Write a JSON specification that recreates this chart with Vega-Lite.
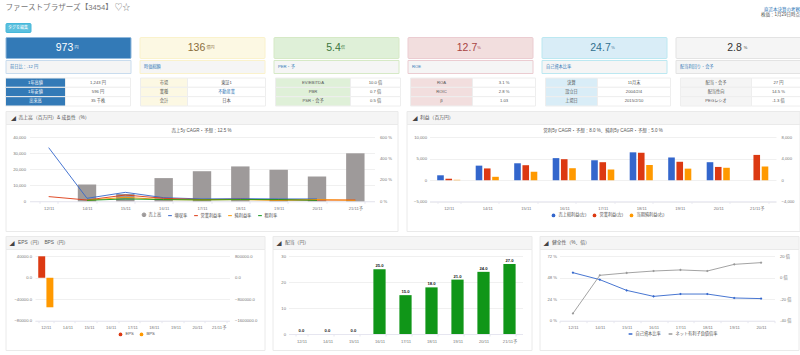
{
"$schema":"https://vega.github.io/schema/vega-lite/v6.json",
"padding":{"left":4.5,"top":0,"right":0,"bottom":0},
"background":"#ffffff",
"resolve":{"scale":{"color":"independent"},"legend":{"color":"independent"}},
"config":{"view":{"stroke":null},"font":"Liberation Sans, Noto Sans CJK JP","text":{"font":"Liberation Sans, Noto Sans CJK JP"},
"axis":{"title":null,"labelFontSize":4.2,"labelColor":"#777","labelFont":"Liberation Sans, Noto Sans CJK JP","gridColor":"#f0f0f0","gridWidth":1,"domain":false,"ticks":false},
"legend":{"labelFontSize":4.2,"labelOffset":2,"labelColor":"#555","labelFont":"Liberation Sans, Noto Sans CJK JP","title":null}},
"datasets":{
"sales":[{"cat":"14/11","series":"売上高","value":10500},{"cat":"15/11","series":"売上高","value":4500},{"cat":"16/11","series":"売上高","value":14500},{"cat":"17/11","series":"売上高","value":18800},{"cat":"18/11","series":"売上高","value":21800},{"cat":"19/11","series":"売上高","value":19700},{"cat":"20/11","series":"売上高","value":15500},{"cat":"21/11予","series":"売上高","value":30000}],
"growth":[
{"cat":"12/11","series":"増収率","value":503},{"cat":"14/11","series":"増収率","value":28},{"cat":"15/11","series":"増収率","value":84},{"cat":"16/11","series":"増収率","value":34},{"cat":"17/11","series":"増収率","value":22},{"cat":"18/11","series":"増収率","value":25},{"cat":"19/11","series":"増収率","value":22},{"cat":"20/11","series":"増収率","value":22},
{"cat":"12/11","series":"営業利益率","value":44},{"cat":"14/11","series":"営業利益率","value":12},{"cat":"15/11","series":"営業利益率","value":59},{"cat":"16/11","series":"営業利益率","value":28},{"cat":"17/11","series":"営業利益率","value":16},{"cat":"18/11","series":"営業利益率","value":19},{"cat":"19/11","series":"営業利益率","value":13},{"cat":"20/11","series":"営業利益率","value":12},{"cat":"21/11予","series":"営業利益率","value":12},
{"cat":"14/11","series":"純利益率","value":9},{"cat":"15/11","series":"純利益率","value":37},{"cat":"16/11","series":"純利益率","value":16},{"cat":"17/11","series":"純利益率","value":13},{"cat":"18/11","series":"純利益率","value":16},{"cat":"19/11","series":"純利益率","value":9},{"cat":"20/11","series":"純利益率","value":16},{"cat":"21/11予","series":"純利益率","value":9},
{"cat":"14/11","series":"粗利率","value":9},{"cat":"15/11","series":"粗利率","value":22},{"cat":"16/11","series":"粗利率","value":16},{"cat":"17/11","series":"粗利率","value":13},{"cat":"18/11","series":"粗利率","value":16},{"cat":"19/11","series":"粗利率","value":16},{"cat":"20/11","series":"粗利率","value":9}],
"profit":[
{"cat":"12/11","series":"売上総利益(左)","value":1150},{"cat":"14/11","series":"売上総利益(左)","value":3400},{"cat":"15/11","series":"売上総利益(左)","value":3950},{"cat":"16/11","series":"売上総利益(左)","value":5150},{"cat":"17/11","series":"売上総利益(左)","value":4650},{"cat":"18/11","series":"売上総利益(左)","value":6500},{"cat":"19/11","series":"売上総利益(左)","value":5300},{"cat":"20/11","series":"売上総利益(左)","value":4200},
{"cat":"12/11","series":"営業利益(左)","value":350},{"cat":"14/11","series":"営業利益(左)","value":2750},{"cat":"15/11","series":"営業利益(左)","value":3500},{"cat":"16/11","series":"営業利益(左)","value":4900},{"cat":"17/11","series":"営業利益(左)","value":4200},{"cat":"18/11","series":"営業利益(左)","value":6400},{"cat":"19/11","series":"営業利益(左)","value":4300},{"cat":"20/11","series":"営業利益(左)","value":3100},{"cat":"21/11予","series":"営業利益(左)","value":5900}],
"netprofit":[{"cat":"12/11","series":"当期純利益(右)","value":80},{"cat":"14/11","series":"当期純利益(右)","value":640},{"cat":"15/11","series":"当期純利益(右)","value":1600},{"cat":"16/11","series":"当期純利益(右)","value":2240},{"cat":"17/11","series":"当期純利益(右)","value":2000},{"cat":"18/11","series":"当期純利益(右)","value":2840},{"cat":"19/11","series":"当期純利益(右)","value":2160},{"cat":"20/11","series":"当期純利益(右)","value":2320},{"cat":"21/11予","series":"当期純利益(右)","value":2560}],
"eps":[{"cat":"12/11","series":"EPS","value":40000}],
"bps":[{"cat":"12/11","series":"BPS","value":-1100000}],
"div":[{"cat":"12/11","value":0},{"cat":"14/11","value":0},{"cat":"15/11","value":0},{"cat":"16/11","value":25},{"cat":"17/11","value":15},{"cat":"18/11","value":18},{"cat":"19/11","value":21},{"cat":"20/11","value":24},{"cat":"21/11予","value":27}],
"equity":[{"cat":"12/11","series":"自己資本比率","value":53.7},{"cat":"14/11","series":"自己資本比率","value":45.9},{"cat":"15/11","series":"自己資本比率","value":33.9},{"cat":"16/11","series":"自己資本比率","value":27.2},{"cat":"17/11","series":"自己資本比率","value":29.8},{"cat":"18/11","series":"自己資本比率","value":29.8},{"cat":"19/11","series":"自己資本比率","value":25.4},{"cat":"20/11","series":"自己資本比率","value":24.7}],
"debt":[{"cat":"12/11","series":"ネット有利子負債倍率","value":-33.2},{"cat":"14/11","series":"ネット有利子負債倍率","value":2.3},{"cat":"15/11","series":"ネット有利子負債倍率","value":4.5},{"cat":"16/11","series":"ネット有利子負債倍率","value":6.3},{"cat":"17/11","series":"ネット有利子負債倍率","value":7.3},{"cat":"18/11","series":"ネット有利子負債倍率","value":6.3},{"cat":"19/11","series":"ネット有利子負債倍率","value":12.5},{"cat":"20/11","series":"ネット有利子負債倍率","value":14.1}]
},
"vconcat":[
{"vconcat":[
 {"hconcat":[
  {"width":600,"height":22,"data":{"values":[{"t":"ファーストブラザーズ【3454】 ♡☆"}]},"mark":{"type":"text","align":"left","fontSize":7.6,"color":"#777","dx":-300,"dy":-3},"encoding":{"text":{"field":"t"}}},
  {"width":195,"height":22,"data":{"values":[{"t":"直近本決算の考察","c":"#337ab7","k":"a"},{"t":"株価：1月29日時点","c":"#555","k":"b"}]},"mark":{"type":"text","align":"right","fontSize":4.5,"dx":97},"encoding":{"text":{"field":"t"},"color":{"field":"c","type":"nominal","scale":null},"y":{"field":"k","type":"nominal","axis":null,"scale":{"range":[10,15],"padding":0}}}}
 ],"spacing":0,"bounds":"flush"},
 {"width":25,"height":9,"view":{"fill":"#5bc0de","stroke":"#46b8da","cornerRadius":1},"data":{"values":[{"t":"タグを編集"}]},"mark":{"type":"text","fontSize":4,"color":"#fff"},"encoding":{"text":{"field":"t"}}}
],"spacing":0},
{"vconcat":[
 {"hconcat":[
  {"width":125,"height":21,"view":{"fill":"#337ab7","stroke":"#8fb8dc","cornerRadius":1},"data":{"values":[{"v":"973","u":"円"}]},"layer":[{"mark":{"type":"text","fontSize":10.5,"dx":-3.5,"color":"#ffffff"},"encoding":{"text":{"field":"v"}}},{"mark":{"type":"text","fontSize":4,"dx":8.5,"color":"#ffffff"},"encoding":{"text":{"field":"u"}}}]},
  {"width":125,"height":21,"view":{"fill":"#fcf8e3","stroke":"#faf2cc","cornerRadius":1},"data":{"values":[{"v":"136","u":"億円"}]},"layer":[{"mark":{"type":"text","fontSize":10.5,"dx":-5.5,"color":"#8a6d3b"},"encoding":{"text":{"field":"v"}}},{"mark":{"type":"text","fontSize":4,"dx":8.5,"color":"#8a6d3b"},"encoding":{"text":{"field":"u"}}}]},
  {"width":125,"height":21,"view":{"fill":"#dff0d8","stroke":"#d6e9c6","cornerRadius":1},"data":{"values":[{"v":"5.4","u":"倍"}]},"layer":[{"mark":{"type":"text","fontSize":10.5,"dx":-2.5,"color":"#3c763d"},"encoding":{"text":{"field":"v"}}},{"mark":{"type":"text","fontSize":4,"dx":7,"color":"#3c763d"},"encoding":{"text":{"field":"u"}}}]},
  {"width":125,"height":21,"view":{"fill":"#f2dede","stroke":"#ebccd1","cornerRadius":1},"data":{"values":[{"v":"12.7","u":"%"}]},"layer":[{"mark":{"type":"text","fontSize":10.5,"dx":-3,"color":"#a94442"},"encoding":{"text":{"field":"v"}}},{"mark":{"type":"text","fontSize":4,"dx":9,"color":"#a94442"},"encoding":{"text":{"field":"u"}}}]},
  {"width":125,"height":21,"view":{"fill":"#d9edf7","stroke":"#bce8f1","cornerRadius":1},"data":{"values":[{"v":"24.7","u":"%"}]},"layer":[{"mark":{"type":"text","fontSize":10.5,"dx":-3.5,"color":"#31708f"},"encoding":{"text":{"field":"v"}}},{"mark":{"type":"text","fontSize":4,"dx":9,"color":"#31708f"},"encoding":{"text":{"field":"u"}}}]},
  {"width":125,"height":21,"view":{"fill":"#f5f5f5","stroke":"#e3e3e3","cornerRadius":1},"data":{"values":[{"v":"2.8","u":"%"}]},"layer":[{"mark":{"type":"text","fontSize":10.5,"dx":-3.5,"color":"#333333"},"encoding":{"text":{"field":"v"}}},{"mark":{"type":"text","fontSize":4,"dx":7.5,"color":"#333333"},"encoding":{"text":{"field":"u"}}}]}
 ],"spacing":9,"bounds":"flush"},
 {"hconcat":[
  {"width":125,"height":13,"view":{"fill":"#f5f5f5","stroke":"#c9dcee"},"data":{"values":[{"t":"前日比：-12 円"}]},"mark":{"type":"text","align":"left","fontSize":4.2,"dx":-58,"color":"#337ab7"},"encoding":{"text":{"field":"t"}}},
  {"width":125,"height":13,"view":{"fill":"#f5f5f5","stroke":"#faf2cc"},"data":{"values":[{"t":"時価総額"}]},"mark":{"type":"text","align":"left","fontSize":4.2,"dx":-58,"color":"#337ab7"},"encoding":{"text":{"field":"t"}}},
  {"width":125,"height":13,"view":{"fill":"#f5f5f5","stroke":"#d6e9c6"},"data":{"values":[{"t":"PER・予"}]},"mark":{"type":"text","align":"left","fontSize":4.2,"dx":-58,"color":"#337ab7"},"encoding":{"text":{"field":"t"}}},
  {"width":125,"height":13,"view":{"fill":"#f5f5f5","stroke":"#ebccd1"},"data":{"values":[{"t":"ROE"}]},"mark":{"type":"text","align":"left","fontSize":4.2,"dx":-58,"color":"#337ab7"},"encoding":{"text":{"field":"t"}}},
  {"width":125,"height":13,"view":{"fill":"#f5f5f5","stroke":"#bce8f1"},"data":{"values":[{"t":"自己資本比率"}]},"mark":{"type":"text","align":"left","fontSize":4.2,"dx":-58,"color":"#337ab7"},"encoding":{"text":{"field":"t"}}},
  {"width":125,"height":13,"view":{"fill":"#f5f5f5","stroke":"#e3e3e3"},"data":{"values":[{"t":"配当利回り・会予"}]},"mark":{"type":"text","align":"left","fontSize":4.2,"dx":-58,"color":"#337ab7"},"encoding":{"text":{"field":"t"}}}
 ],"spacing":9,"bounds":"flush"}
],"spacing":0},
{"hconcat":[
 {"hconcat":[
  {"width":60,"height":28,"data":{"values":[{"t":"1年高値"},{"t":"1年安値"},{"t":"出来高"}]},"encoding":{"y":{"field":"t","type":"nominal","sort":null,"axis":null}},"layer":[{"mark":{"type":"rect","fill":"#337ab7","stroke":"#eeeeee"}},{"mark":{"type":"text","fontSize":4.2,"color":"#ffffff"},"encoding":{"text":{"field":"t"}}}]},
  {"width":65,"height":28,"data":{"values":[{"t":"1,243 円"},{"t":"596 円"},{"t":"35 千株"}]},"encoding":{"y":{"field":"t","type":"nominal","sort":null,"axis":null}},"layer":[{"mark":{"type":"rect","fill":"#ffffff","stroke":"#eeeeee"}},{"mark":{"type":"text","fontSize":4.2,"color":"#555555"},"encoding":{"text":{"field":"t"}}}]}
 ],"spacing":0,"bounds":"flush"},
 {"hconcat":[
  {"width":47,"height":28,"data":{"values":[{"t":"市場"},{"t":"業種"},{"t":"会計"}]},"encoding":{"y":{"field":"t","type":"nominal","sort":null,"axis":null}},"layer":[{"mark":{"type":"rect","fill":"#fcf8e3","stroke":"#eeeeee"}},{"mark":{"type":"text","fontSize":4.2,"color":"#555555"},"encoding":{"text":{"field":"t"}}}]},
  {"width":78,"height":28,"data":{"values":[{"t":"東証1","c":"#555555"},{"t":"不動産業","c":"#337ab7"},{"t":"日本","c":"#555555"}]},"encoding":{"y":{"field":"t","type":"nominal","sort":null,"axis":null}},"layer":[{"mark":{"type":"rect","fill":"#ffffff","stroke":"#eeeeee"}},{"mark":{"type":"text","fontSize":4.2},"encoding":{"text":{"field":"t"},"color":{"field":"c","type":"nominal","scale":null}}}]}
 ],"spacing":0,"bounds":"flush"},
 {"hconcat":[
  {"width":75,"height":28,"data":{"values":[{"t":"EV/EBITDA"},{"t":"PBR"},{"t":"PSR・会予"}]},"encoding":{"y":{"field":"t","type":"nominal","sort":null,"axis":null}},"layer":[{"mark":{"type":"rect","fill":"#dff0d8","stroke":"#eeeeee"}},{"mark":{"type":"text","fontSize":4.2,"color":"#555555"},"encoding":{"text":{"field":"t"}}}]},
  {"width":50,"height":28,"data":{"values":[{"t":"10.0 倍"},{"t":"0.7 倍"},{"t":"0.5 倍"}]},"encoding":{"y":{"field":"t","type":"nominal","sort":null,"axis":null}},"layer":[{"mark":{"type":"rect","fill":"#ffffff","stroke":"#eeeeee"}},{"mark":{"type":"text","fontSize":4.2,"color":"#555555"},"encoding":{"text":{"field":"t"}}}]}
 ],"spacing":0,"bounds":"flush"},
 {"hconcat":[
  {"width":62,"height":28,"data":{"values":[{"t":"ROA"},{"t":"ROIC"},{"t":"β"}]},"encoding":{"y":{"field":"t","type":"nominal","sort":null,"axis":null}},"layer":[{"mark":{"type":"rect","fill":"#f2dede","stroke":"#eeeeee"}},{"mark":{"type":"text","fontSize":4.2,"color":"#555555"},"encoding":{"text":{"field":"t"}}}]},
  {"width":63,"height":28,"data":{"values":[{"t":"3.1 %"},{"t":"2.8 %"},{"t":"1.03"}]},"encoding":{"y":{"field":"t","type":"nominal","sort":null,"axis":null}},"layer":[{"mark":{"type":"rect","fill":"#ffffff","stroke":"#eeeeee"}},{"mark":{"type":"text","fontSize":4.2,"color":"#555555"},"encoding":{"text":{"field":"t"}}}]}
 ],"spacing":0,"bounds":"flush"},
 {"hconcat":[
  {"width":52,"height":28,"data":{"values":[{"t":"決算"},{"t":"設立日"},{"t":"上場日"}]},"encoding":{"y":{"field":"t","type":"nominal","sort":null,"axis":null}},"layer":[{"mark":{"type":"rect","fill":"#d9edf7","stroke":"#eeeeee"}},{"mark":{"type":"text","fontSize":4.2,"color":"#555555"},"encoding":{"text":{"field":"t"}}}]},
  {"width":73,"height":28,"data":{"values":[{"t":"11月末"},{"t":"2004/2/4"},{"t":"2015/2/10"}]},"encoding":{"y":{"field":"t","type":"nominal","sort":null,"axis":null}},"layer":[{"mark":{"type":"rect","fill":"#ffffff","stroke":"#eeeeee"}},{"mark":{"type":"text","fontSize":4.2,"color":"#555555"},"encoding":{"text":{"field":"t"}}}]}
 ],"spacing":0,"bounds":"flush"},
 {"hconcat":[
  {"width":71,"height":28,"data":{"values":[{"t":"配当・会予"},{"t":"配当性向"},{"t":"PEGレシオ"}]},"encoding":{"y":{"field":"t","type":"nominal","sort":null,"axis":null}},"layer":[{"mark":{"type":"rect","fill":"#f5f5f5","stroke":"#eeeeee"}},{"mark":{"type":"text","fontSize":4.2,"color":"#555555"},"encoding":{"text":{"field":"t"}}}]},
  {"width":54,"height":28,"data":{"values":[{"t":"27 円"},{"t":"14.5 %"},{"t":"-1.3 倍"}]},"encoding":{"y":{"field":"t","type":"nominal","sort":null,"axis":null}},"layer":[{"mark":{"type":"rect","fill":"#ffffff","stroke":"#eeeeee"}},{"mark":{"type":"text","fontSize":4.2,"color":"#555555"},"encoding":{"text":{"field":"t"}}}]}
 ],"spacing":0,"bounds":"flush"}
],"spacing":8},
{"resolve":{"scale":{"color":"independent","xOffset":"independent"},"legend":{"color":"independent"}},"hconcat":[
 {"vconcat":[
  {"width":392,"height":13,"view":{"fill":"#f5f5f5","stroke":"#eaeaea"},"data":{"values":[{"i":"◢","t":"売上高（百万円）& 成長性（%）"}]},"layer":[{"mark":{"type":"text","fontSize":5,"color":"#444","dx":-188},"encoding":{"text":{"field":"i"}}},{"mark":{"type":"text","align":"left","fontSize":4.8,"color":"#555","dx":-183},"encoding":{"text":{"field":"t"}}}]},
  {"width":392,"height":107,"view":{"fill":"#ffffff","stroke":"#eaeaea"},"resolve":{"scale":{"y":"independent"}},"layer":[
   {"data":{"name":"sales"},"mark":{"type":"bar","color":"#9e9a9a"},"encoding":{
     "x":{"field":"cat","type":"nominal","sort":null,"scale":{"domain":["12/11","14/11","15/11","16/11","17/11","18/11","19/11","20/11","21/11予"],"range":[24,369],"paddingInner":0.52,"paddingOuter":0.26},"axis":{"offset":-29.7,"labelAngle":0,"labelPadding":3,"domain":true,"domainColor":"#e6e6f0","ticks":true,"tickColor":"#e6e6f0","tickSize":2,"tickBand":"extent","grid":false}},
     "y":{"field":"value","type":"quantitative","scale":{"domain":[0,40000],"range":[77.3,13.3]},"axis":{"offset":-24,"values":[0,10000,20000,30000,40000],"format":",.0f","labelPadding":4}},
     "color":{"field":"series","type":"nominal","scale":{"domain":["売上高","増収率","営業利益率","純利益率","粗利率"],"range":["#9e9a9a","#3366cc","#dc3912","#ff9900","#109618"]},"legend":{"orient":"none","legendX":136,"legendY":101,"direction":"horizontal","columns":5,"columnPadding":4,"symbolSize":14,"symbolStrokeWidth":1,"symbolType":"circle","encode":{"symbols":{"update":{"shape":{"signal":"datum.value === '売上高' ? 'circle' : 'stroke'"},"fill":{"signal":"datum.value === '売上高' ? '#9e9a9a' : 'transparent'"},"opacity":{"value":1}}}}}}}},
   {"data":{"name":"growth"},"mark":{"type":"line","strokeWidth":0.9},"encoding":{
     "x":{"field":"cat","type":"nominal","sort":null},
     "y":{"field":"value","type":"quantitative","scale":{"domain":[0,600],"range":[77.3,13.3]},"axis":{"orient":"right","offset":-23,"values":[0,200,400,600],"labelExpr":"datum.value + ' %'","grid":false,"labelPadding":5}},
     "color":{"field":"series","type":"nominal"}}},
   {"data":{"values":[{"t":"売上5y CAGR・予想：12.5 %"}]},"mark":{"type":"text","fontSize":4.5,"color":"#555","dy":-46.5},"encoding":{"text":{"field":"t"}}}
  ]}
 ],"spacing":0,"bounds":"flush"},
 {"vconcat":[
  {"width":393,"height":13,"view":{"fill":"#f5f5f5","stroke":"#eaeaea"},"data":{"values":[{"i":"◢","t":"利益（百万円）"}]},"layer":[{"mark":{"type":"text","fontSize":5,"color":"#444","dx":-188},"encoding":{"text":{"field":"i"}}},{"mark":{"type":"text","align":"left","fontSize":4.8,"color":"#555","dx":-183},"encoding":{"text":{"field":"t"}}}]},
  {"width":393,"height":107,"view":{"fill":"#ffffff","stroke":"#eaeaea"},"resolve":{"scale":{"y":"independent"}},"layer":[
   {"data":{"name":"profit"},"mark":{"type":"bar"},"encoding":{
     "x":{"field":"cat","type":"nominal","sort":null,"scale":{"domain":["12/11","14/11","15/11","16/11","17/11","18/11","19/11","20/11","21/11予"],"range":[23,369.5],"paddingInner":0.4,"paddingOuter":0.2},"axis":{"offset":-29.7,"labelAngle":0,"labelPadding":3,"domain":true,"domainColor":"#e6e6f0","ticks":true,"tickColor":"#e6e6f0","tickSize":2,"tickBand":"extent","grid":false}},
     "xOffset":{"field":"series","type":"nominal","sort":null,"scale":{"domain":["売上総利益(左)","営業利益(左)","当期純利益(右)"],"paddingInner":0.2}},
     "y":{"field":"value","type":"quantitative","scale":{"domain":[-5000,10000],"range":[77.7,13.3]},"axis":{"offset":-23,"values":[-5000,0,5000,10000],"format":",.0f","labelPadding":3}},
     "color":{"field":"series","type":"nominal","scale":{"domain":["売上総利益(左)","営業利益(左)","当期純利益(右)"],"range":["#3366cc","#dc3912","#ff9900"]},"legend":{"orient":"none","legendX":144,"legendY":101,"direction":"horizontal","columns":3,"columnPadding":5,"symbolSize":14,"symbolType":"circle"}}}},
   {"data":{"name":"netprofit"},"mark":{"type":"bar"},"encoding":{
     "x":{"field":"cat","type":"nominal","sort":null},
     "xOffset":{"field":"series","type":"nominal","sort":null},
     "y":{"field":"value","type":"quantitative","scale":{"domain":[-4000,8000],"range":[77.7,13.3]},"axis":{"orient":"right","offset":-23.5,"values":[-4000,0,4000,8000],"format":",.0f","grid":false,"labelPadding":5}},
     "color":{"field":"series","type":"nominal"}}},
   {"data":{"values":[{"t":"営利5y CAGR・予想：8.0 %、純利5y CAGR・予想：5.0 %"}]},"mark":{"type":"text","fontSize":4.5,"color":"#555","dy":-46.5},"encoding":{"text":{"field":"t"}}}
  ]}
 ],"spacing":0,"bounds":"flush"}
],"spacing":7},
{"resolve":{"scale":{"color":"independent","xOffset":"independent"},"legend":{"color":"independent"}},"hconcat":[
 {"vconcat":[
  {"width":259,"height":13,"view":{"fill":"#f5f5f5","stroke":"#eaeaea"},"data":{"values":[{"i":"◢","t":"EPS（円）　BPS（円）"}]},"layer":[{"mark":{"type":"text","fontSize":5,"color":"#444","dx":-123},"encoding":{"text":{"field":"i"}}},{"mark":{"type":"text","align":"left","fontSize":4.8,"color":"#555","dx":-117},"encoding":{"text":{"field":"t"}}}]},
  {"width":259,"height":101,"view":{"fill":"#ffffff","stroke":"#eaeaea"},"resolve":{"scale":{"y":"independent"}},"layer":[
   {"data":{"name":"eps"},"mark":{"type":"bar"},"encoding":{
     "x":{"field":"cat","type":"nominal","sort":null,"scale":{"domain":["12/11","14/11","15/11","16/11","17/11","18/11","19/11","20/11","21/11予"],"range":[29.5,224],"paddingInner":0.3,"paddingOuter":0.15},"axis":{"offset":-29.3,"labelAngle":0,"labelPadding":3,"domain":true,"domainColor":"#e6e6f0","ticks":true,"tickColor":"#e6e6f0","tickSize":2,"tickBand":"extent","grid":false}},
     "xOffset":{"field":"series","type":"nominal","sort":null,"scale":{"domain":["EPS","BPS"],"paddingInner":0.15}},
     "y":{"field":"value","type":"quantitative","scale":{"domain":[-80000,40000],"range":[71.7,7.3]},"axis":{"offset":-29,"values":[-80000,-40000,0,40000],"format":".1f","labelPadding":3}},
     "color":{"field":"series","type":"nominal","scale":{"domain":["EPS","BPS"],"range":["#dc3912","#ff9900"]},"legend":{"orient":"none","legendX":112,"legendY":95,"direction":"horizontal","columns":2,"columnPadding":4,"symbolSize":14,"symbolType":"circle"}}}},
   {"data":{"name":"bps"},"mark":{"type":"bar"},"encoding":{
     "x":{"field":"cat","type":"nominal","sort":null},
     "xOffset":{"field":"series","type":"nominal","sort":null},
     "y":{"field":"value","type":"quantitative","scale":{"domain":[-1600000,800000],"range":[71.7,7.3]},"axis":{"orient":"right","offset":-35,"values":[-1600000,-800000,0,800000],"format":".1f","grid":false,"labelPadding":5}},
     "color":{"field":"series","type":"nominal"}}}
  ]}
 ],"spacing":0,"bounds":"flush"},
 {"vconcat":[
  {"width":259,"height":13,"view":{"fill":"#f5f5f5","stroke":"#eaeaea"},"data":{"values":[{"i":"◢","t":"配当（円）"}]},"layer":[{"mark":{"type":"text","fontSize":5,"color":"#444","dx":-123},"encoding":{"text":{"field":"i"}}},{"mark":{"type":"text","align":"left","fontSize":4.8,"color":"#555","dx":-117},"encoding":{"text":{"field":"t"}}}]},
  {"width":259,"height":101,"view":{"fill":"#ffffff","stroke":"#eaeaea"},"data":{"name":"div"},"encoding":{
     "x":{"field":"cat","type":"nominal","sort":null,"scale":{"domain":["12/11","14/11","15/11","16/11","17/11","18/11","19/11","20/11","21/11予"],"range":[16,250],"paddingInner":0.53,"paddingOuter":0.265},"axis":{"offset":-16,"labelAngle":0,"labelPadding":3,"domain":true,"domainColor":"#e6e6f0","ticks":true,"tickColor":"#e6e6f0","tickSize":2,"tickBand":"extent","grid":false}},
     "y":{"field":"value","type":"quantitative","scale":{"domain":[0,30],"range":[85,7.3]},"axis":{"offset":-16,"values":[0,10,20,30],"format":"d","labelPadding":3}}},
   "layer":[
   {"mark":{"type":"bar","color":"#109618"}},
   {"mark":{"type":"text","fontSize":4.2,"fontWeight":"bold","color":"#222222","dy":-3},"encoding":{"text":{"field":"value","type":"quantitative","format":".1f"}}}
  ]}
 ],"spacing":0,"bounds":"flush"},
 {"vconcat":[
  {"width":259,"height":13,"view":{"fill":"#f5f5f5","stroke":"#eaeaea"},"data":{"values":[{"i":"◢","t":"健全性（%、倍）"}]},"layer":[{"mark":{"type":"text","fontSize":5,"color":"#444","dx":-123},"encoding":{"text":{"field":"i"}}},{"mark":{"type":"text","align":"left","fontSize":4.8,"color":"#555","dx":-117},"encoding":{"text":{"field":"t"}}}]},
  {"width":259,"height":101,"view":{"fill":"#ffffff","stroke":"#eaeaea"},"resolve":{"scale":{"y":"independent"}},"layer":[
   {"data":{"name":"equity"},"mark":{"type":"line","strokeWidth":0.9,"point":{"shape":"diamond","size":7,"filled":true}},"encoding":{
     "x":{"field":"cat","type":"nominal","sort":null,"scale":{"domain":["12/11","14/11","15/11","16/11","17/11","18/11","19/11","20/11"],"range":[20,235]},"axis":{"offset":-29.3,"labelAngle":0,"labelPadding":3,"domain":true,"domainColor":"#e6e6f0","ticks":true,"tickColor":"#e6e6f0","tickSize":2,"tickBand":"extent","grid":false}},
     "y":{"field":"value","type":"quantitative","scale":{"domain":[0,72],"range":[71.7,7.3]},"axis":{"offset":-20,"values":[0,24,48,72],"labelExpr":"datum.value + ' %'","labelPadding":3}},
     "color":{"field":"series","type":"nominal","scale":{"domain":["自己資本比率","ネット有利子負債倍率"],"range":["#3366cc","#999999"]},"legend":{"orient":"none","legendX":88,"legendY":95,"direction":"horizontal","columns":2,"columnPadding":4,"symbolSize":14,"symbolType":"stroke"}}}},
   {"data":{"name":"debt"},"mark":{"type":"line","strokeWidth":0.9,"point":{"shape":"diamond","size":7,"filled":true}},"encoding":{
     "x":{"field":"cat","type":"nominal","sort":null},
     "y":{"field":"value","type":"quantitative","scale":{"domain":[-40,20],"range":[71.7,7.3]},"axis":{"orient":"right","offset":-24,"values":[-40,-20,0,20],"labelExpr":"datum.value + ' 倍'","grid":false,"labelPadding":5}},
     "color":{"field":"series","type":"nominal"}}}
  ]}
 ],"spacing":0,"bounds":"flush"}
],"spacing":6}
],
"spacing":3
}
